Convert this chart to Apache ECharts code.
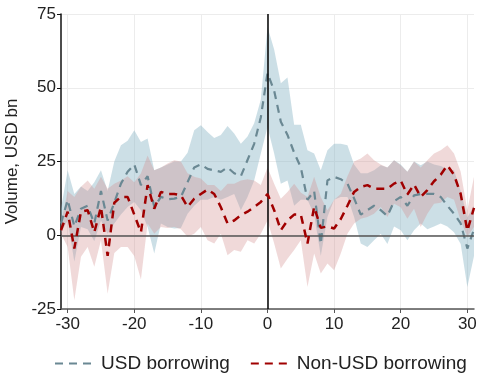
<!DOCTYPE html>
<html><head><meta charset="utf-8">
<script src="https://cdn.jsdelivr.net/npm/echarts@6/dist/echarts.min.js"></script>
<style>html,body{margin:0;padding:0;background:#fff}#c{width:477px;height:380px}</style>
</head><body><div id="c"></div>
<script>
const days = [-31,-30,-29,-28,-27,-26,-25,-24,-23,-22,-21,-20,-19,-18,-17,-16,-15,-14,-13,-12,-11,-10,-9,-8,-7,-6,-5,-4,-3,-2,-1,0,1,2,3,4,5,6,7,8,9,10,11,12,13,14,15,16,17,18,19,20,21,22,23,24,25,26,27,28,29,30,31];
const usdMean = [4,12,3,9,10,4,15,5,11,17.5,21.5,24,17,20,9.6,13,12.2,12.4,13,18,23,24,22.5,22,21.5,23,21,20,25.5,31,40,55,49,38.5,34,28,23,12,15,-3,18.6,19.8,19,17.5,12.5,7,8.5,10,8.5,6.5,11.5,13,10,13.5,14,14,14,13,10,7.3,4,-4.5,2];
const usdUpper = [9,22,14,16.5,15,18,22,15,25,30.5,32,35.6,31.6,32.8,22,23,24,25,25,28,35.6,37.3,35,33,34,37,34.5,31,33.5,38,46,70.6,63,51.5,53.5,37.5,37.5,28.8,27.7,22,28.8,31,31,30.5,24,21,21,22,23.7,23,25.4,24,21.5,25,23.7,25,24,23.5,22.5,22,15,6,10];
const usdLower = [1,5,-9,2.8,2,-2,5,0.5,4,7,9.6,11.3,8.5,2.8,-6.2,4,2.8,2.3,2.5,7.3,10,12,12,13,12,13,14,8.5,13,18.6,27.7,36.7,27.7,17.5,18.6,10,12,12,7,-7,6.2,12,13,13,6.2,-2.8,-4,-1.7,0.5,-3,3,1.7,-1.7,1.7,4,2,3,4,3,1,-3,-17.5,-7];
const nonMean = [1.7,8,-4.5,8,8.5,1,9.6,-7,11,13,13,7,1,17,9,14.7,14,14,13.5,9.6,12.4,14,15.5,14,9.5,4,5,6.8,8,9.6,11.3,14,8.5,1.7,5,7,7,-2.8,9.6,2.5,3,2.3,5.5,10,14.7,16.4,17,15.8,15.8,15.8,17.5,18.5,13.8,17.2,13,15.3,18.3,20.5,23.7,20.5,14,1.5,9.3];
const nonUpper = [4,15,13,16.4,18.6,15.8,19.8,15.8,17.5,18.6,20,18,21,27,22,23,24.3,25.4,25,21,19.8,19.2,17,17,15,17.5,17.5,18.6,19,18.6,17,23,17.5,12.4,14.7,17.5,14.5,13,19.8,13,8.5,12,14,20,25,26,27.7,25.4,24,23,25.4,23.7,21.5,25,23,25.4,27.7,28.8,30.5,27.7,21.5,8.5,19.8];
const nonLower = [0.5,-4,-22,-7.3,-4,-10.7,-1.7,-19.8,-6,-4,-4,-7,-15,4,0.5,2.8,2.5,2.8,2,-0.5,0.5,2.8,-1.7,-2.8,0.5,-6.8,-5,-5.6,-1.7,-2.8,0.5,5,-2.8,-11.3,-8,-5,-1.7,-17.5,-6.2,-13,-9.6,-11.9,-6.2,0.5,4,5.6,6.2,7.3,9.6,6.2,10.7,9.5,5.6,9,2.8,7.3,10.7,11,13,12,5,-0.5,2.8];
const xTicks = [-30,-20,-10,0,10,20,30];
const seriesNames = ['USD borrowing','Non-USD borrowing'];

const pair = arr => days.map((d,i)=>[d,arr[i]]);
const FONT = 'Liberation Sans';

function bandSeries(name, lo, hi, color, z){
  return {
    name:name, type:'custom', silent:true, z:z,
    data: days.map((d,i)=>[d, lo[i], hi[i]]),
    encode:{x:0, y:[1,2]},
    renderItem:function(params, api){
      if (params.dataIndex !== 0) return null;
      const pts = [];
      for (let i=0;i<days.length;i++) pts.push(api.coord([days[i], hi[i]]));
      for (let i=days.length-1;i>=0;i--) pts.push(api.coord([days[i], lo[i]]));
      return {type:'polygon', shape:{points:pts}, style:{fill:color, stroke:null}};
    }
  };
}

const chart = echarts.init(document.getElementById('c'), null, {renderer:'canvas'});
chart.setOption({
  animation:false,
  textStyle:{fontFamily:FONT},
  grid:{left:61, right:3, top:14, bottom:71, outerBoundsMode:'none', containLabel:false},
  xAxis:{type:'value', min:-31, max:31,
    axisLine:{show:true, onZero:false, lineStyle:{color:'#555', width:1.5}},
    axisTick:{show:true, length:4, lineStyle:{color:'#555'}, customValues:xTicks},
    axisLabel:{customValues:xTicks, color:'#222', fontSize:17, fontFamily:FONT, margin:7},
    splitLine:{show:true, lineStyle:{color:'#ececec', width:1}}},
  yAxis:{type:'value', min:-25, max:75, interval:25,
    name:'Volume, USD bn', nameLocation:'middle', nameGap:39, nameRotate:90,
    nameTextStyle:{color:'#222', fontSize:17, fontFamily:FONT},
    axisLine:{show:true, onZero:false, lineStyle:{color:'#111', width:1.5}},
    axisTick:{show:true, length:4, lineStyle:{color:'#111'}},
    axisLabel:{color:'#222', fontSize:17, fontFamily:FONT, margin:5},
    splitLine:{show:true, lineStyle:{color:'#ececec', width:1}}},
  legend:{data:seriesNames, bottom:2, left:49, itemWidth:36, itemHeight:14, itemGap:20,
    itemStyle:{opacity:0},
    textStyle:{fontSize:19, color:'#222', fontFamily:FONT, padding:[0,0,0,5]}},
  series:[
    bandSeries('usdBand', usdLower, usdUpper, 'rgba(143,184,200,0.45)', 1),
    bandSeries('nonBand', nonLower, nonUpper, 'rgba(208,140,140,0.33)', 2),
    {name:seriesNames[0], type:'line', data:pair(usdMean), symbol:'none', color:'#6a8893',
      lineStyle:{color:'#6a8893', width:2.2, type:[8,6]}, z:4,
      markLine:{silent:true, symbol:'none', label:{show:false}, animation:false,
        data:[{yAxis:0, lineStyle:{color:'#555', width:1.5, type:'solid'}},
              {xAxis:0, lineStyle:{color:'#000', width:1.5, type:'solid'}}]}},
    {name:seriesNames[1], type:'line', data:pair(nonMean), symbol:'none', color:'#a00000',
      lineStyle:{color:'#a00000', width:2.5, type:[8,6]}, z:5}
  ]
});
</script></body></html>
